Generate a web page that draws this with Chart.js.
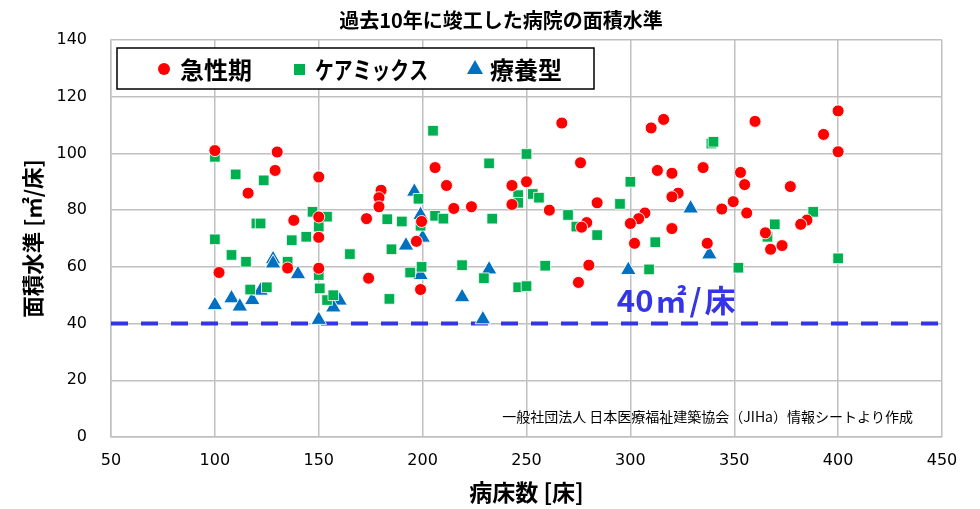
<!DOCTYPE html>
<html>
<head>
<meta charset="utf-8">
<script src="https://cdn.jsdelivr.net/npm/chart.js@4.4.0/dist/chart.umd.min.js"></script>
<style>
  body { margin: 0; background: #fff; }
</style>
</head>
<body>
<canvas id="grafica" width="980" height="509"></canvas>
<script>
// 急性期
const acuteX = [100, 102, 116, 130, 129, 150, 138, 150, 150, 135, 150, 180, 179, 179, 173, 206, 211.5, 215, 223.5, 243,
  250, 243, 261, 199.5, 197, 174, 199, 267, 276, 310, 316, 313, 320, 335, 323, 320, 360, 353, 355, 349.5,
  344, 356, 284, 279, 276.5, 307, 304, 300, 320, 302, 280, 275, 337, 365, 367.5, 373, 400, 393, 400, 377, 385, 382];
const acuteY = [101, 58, 86, 100.5, 94, 91.7, 76.4, 77.6, 70.4, 59.6, 59.5, 87, 84.4, 81.2, 77, 95, 88.7, 80.6, 81.2, 88.7,
  90, 82, 80, 76, 69, 56, 52, 110.7, 96.7, 109, 112, 94, 93, 95, 86, 84.7, 111.3, 93.3, 89, 83,
  80.4, 79, 82.6, 75.6, 74, 79, 77, 75.3, 73.5, 68.3, 60.6, 54.5, 68.3, 72, 66.2, 67.5, 115, 106.7, 100.6, 88.3, 76.5, 75];

// ケアミックス
const mixX = [100, 110, 123.5, 147, 120, 122, 150, 154, 100, 108, 115, 137, 144, 135, 150, 117, 125, 150.5, 154, 157,
  205, 232, 250, 198, 246, 253, 256, 246, 183, 190, 206, 210, 233.5, 199, 165, 185, 194, 199.5, 219, 229.5,
  246, 250, 259, 184, 339, 340, 300, 295, 270, 274, 284, 312, 309, 352, 366, 388, 369.5, 400];
const mixY = [98.8, 92.6, 90.5, 79.4, 75.3, 75.3, 74.2, 77.7, 69.7, 64.2, 61.8, 69.4, 70.6, 61.8, 57.1, 52, 52.8, 52.4, 48.3, 50,
  108, 96.5, 99.8, 84, 85.3, 85.7, 84.4, 82.6, 76.8, 76, 78, 77, 77, 74.5, 64.5, 66.2, 58, 60, 60.6, 56,
  52.8, 53.2, 60.4, 48.7, 103.5, 104.1, 90, 82.2, 78.3, 74.2, 71.2, 68.7, 59.1, 59.7, 70.6, 79.4, 75, 63];

// 療養型
const careX = [100, 108, 112, 118, 122, 128, 128, 140, 150, 160, 157, 192, 199, 200, 198, 199, 219, 232, 229, 196, 329, 299, 338];
const careY = [46.5, 48.9, 46, 48.3, 51.6, 62.7, 61.2, 57.4, 41.3, 48.1, 45.7, 67.5, 78.3, 70.3, 57.9, 57.1, 49.3, 59.1, 41.5, 86.5, 80.6, 58.9, 64.4];

const seriesNames = ['急性期', 'ケアミックス', '療養型'];
const lineaBase = 40;
const xRango = [50, 450];
const yRango = [0, 140];

const jp = '"Noto Sans CJK JP", "Noto Sans", sans-serif';
const num = '"DejaVu Sans", Verdana, sans-serif';

const toPoints = (xs, ys) => xs.map((x, i) => ({ x: x, y: ys[i] }));

// textos y leyenda dibujados encima del gráfico
const extras = {
    id: 'extras',
    afterDraw(chart) {
        const ctx = chart.ctx;
        const xs = chart.scales.x;
        const ys = chart.scales.y;
        ctx.save();

        // título
        ctx.fillStyle = '#000';
        ctx.font = `bold 20px ${jp}`;
        ctx.textAlign = 'center';
        ctx.textBaseline = 'middle';
        ctx.fillText('過去10年に竣工した病院の面積水準', 501, 20);

        // leyenda
        ctx.fillStyle = '#fff';
        ctx.fillRect(117, 48, 477, 41);
        ctx.strokeStyle = '#000';
        ctx.lineWidth = 1.5;
        ctx.strokeRect(117, 48, 477, 41);

        ctx.fillStyle = '#FF0000';
        ctx.beginPath();
        ctx.arc(164, 69, 6, 0, Math.PI * 2);
        ctx.fill();
        ctx.fillStyle = '#00B050';
        ctx.fillRect(294, 64, 11, 11);
        ctx.fillStyle = '#0070C0';
        ctx.beginPath();
        ctx.moveTo(475, 60);
        ctx.lineTo(483, 74);
        ctx.lineTo(467, 74);
        ctx.closePath();
        ctx.fill();

        ctx.fillStyle = '#000';
        ctx.font = `bold 24px ${jp}`;
        ctx.textAlign = 'left';
        ctx.fillText(seriesNames[0], 180, 70, 72);
        ctx.fillText(seriesNames[1], 315, 70, 113);
        ctx.fillText(seriesNames[2], 490, 70, 73);

        // etiqueta de la línea de 40
        ctx.fillStyle = '#3535E8';
        ctx.font = `bold 31px ${jp}`;
        const lx = xs.getPixelForValue(293.5);
        const ly = ys.getPixelForValue(48.3);
        ctx.fillText(String(lineaBase), lx, ly);
        const w40 = ctx.measureText(String(lineaBase)).width;
        ctx.letterSpacing = '3px';
        ctx.fillText('㎡/床', lx + w40 + 2, ly);
        ctx.letterSpacing = '0px';

        // fuente
        ctx.fillStyle = '#000';
        ctx.font = `14px ${jp}`;
        ctx.textAlign = 'right';
        ctx.fillText('一般社団法人 日本医療福祉建築協会（JIHa）情報シートより作成', 913, 417);

        ctx.restore();
    }
};

const ctx = document.getElementById('grafica').getContext('2d');
new Chart(ctx, {
    type: 'scatter',
    data: {
        datasets: [
            {
                label: seriesNames[0],
                data: toPoints(acuteX, acuteY),
                pointStyle: 'circle',
                pointRadius: 6,
                pointHoverRadius: 6,
                backgroundColor: '#FF0000',
                borderColor: 'rgba(255,255,255,0.9)',
                borderWidth: 1
            },
            {
                label: seriesNames[1],
                data: toPoints(mixX, mixY),
                pointStyle: 'rect',
                pointRadius: 7.5,
                pointHoverRadius: 7.5,
                backgroundColor: '#00B050',
                borderColor: 'rgba(255,255,255,0.8)',
                borderWidth: 1
            },
            {
                label: seriesNames[2],
                data: toPoints(careX, careY),
                pointStyle: 'triangle',
                pointRadius: 9,
                pointHoverRadius: 9,
                backgroundColor: '#0070C0',
                borderColor: 'rgba(255,255,255,0.9)',
                borderWidth: 1
            },
            {
                type: 'line',
                label: '40',
                data: xRango.map(x => ({ x: x, y: lineaBase })),
                borderColor: '#3535E8',
                borderWidth: 4,
                borderDash: [17, 13],
                pointRadius: 0,
                fill: false
            }
        ]
    },
    options: {
        responsive: false,
        devicePixelRatio: 1,
        animation: false,
        layout: { padding: { top: 40, right: 38, left: 0, bottom: 0 } },
        plugins: {
            legend: { display: false },
            title: { display: false },
            tooltip: { enabled: false }
        },
        scales: {
            x: {
                type: 'linear',
                min: xRango[0],
                max: xRango[1],
                afterFit: (scale) => { scale.height = 72; },
                ticks: { stepSize: 50, padding: 14, color: '#000', font: { family: num, size: 16 } },
                grid: { color: '#c0c0c0', lineWidth: 1.5, drawTicks: false },
                border: { color: '#c0c0c0', width: 1.5 },
                title: {
                    display: true,
                    text: '病床数 [床]',
                    color: '#000',
                    font: { family: jp, size: 23, weight: 'bold' },
                    padding: { top: 0, bottom: 3 }
                }
            },
            y: {
                min: yRango[0],
                max: yRango[1],
                afterFit: (scale) => { scale.width = 111; },
                ticks: { stepSize: 20, padding: 24, color: '#000', font: { family: num, size: 16 } },
                grid: { color: '#c0c0c0', lineWidth: 1.5, drawTicks: false },
                border: { color: '#c0c0c0', width: 1.5 },
                title: {
                    display: true,
                    text: '面積水準 [㎡/床]',
                    color: '#000',
                    font: { family: jp, size: 21.5, weight: 'bold' },
                    padding: { top: 20, bottom: 0 }
                }
            }
        }
    },
    plugins: [extras]
});
</script>
</body>
</html>
